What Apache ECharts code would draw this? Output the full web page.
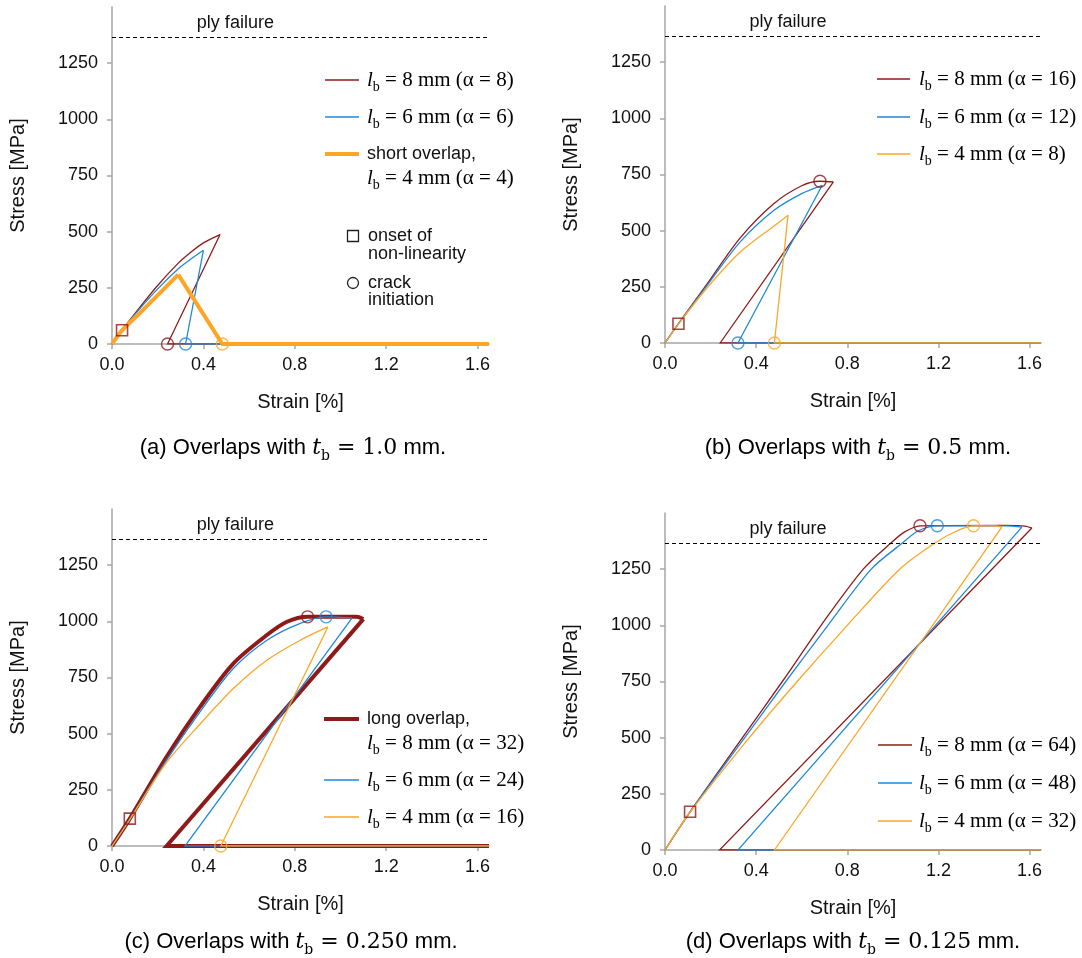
<!DOCTYPE html>
<html><head><meta charset="utf-8">
<script src="https://cdn.jsdelivr.net/npm/echarts@6/dist/echarts.min.js"></script>
<style>html,body{margin:0;padding:0;background:#fff}#c{width:1082px;height:958px}</style>
</head><body><div id="c"></div>
<script>
// ---------- data ----------
const plyFailure = 1365;
const plyLabelStrain = 0.54;
const xTickValues = [0, 0.4, 0.8, 1.2, 1.6];
const yTickValues = [0, 250, 500, 750, 1000, 1250];

// (a) t_b = 1.0 mm  (loading branch / unloading branch + baseline)
const a_lb8_load   = [[0,0],[0.044,62],[0.1,135],[0.195,255],[0.29,360],[0.341,405],[0.40,450],[0.473,487]];
const a_lb8_unload = [[0.473,487],[0.243,0],[1.65,0]];
const a_lb6_load   = [[0,0],[0.044,62],[0.1,132],[0.195,240],[0.29,335],[0.341,375],[0.40,417]];
const a_lb6_unload = [[0.40,417],[0.322,0],[1.65,0]];
const a_lb4_load   = [[0,0],[0.044,61],[0.122,138],[0.195,212],[0.29,309]];
const a_lb4_unload = [[0.29,309],[0.483,0],[1.65,0]];
const a_onset = [[0.044,61]];
const a_crack = [[0.243,0],[0.322,0],[0.483,0]];

// (b) t_b = 0.5 mm
const b_lb8_load   = [[0,0],[0.059,86],[0.184,262],[0.33,468],[0.477,620],[0.6,700],[0.68,720],[0.739,717]];
const b_lb8_unload = [[0.739,717],[0.242,0],[1.65,0]];
const b_lb6_load   = [[0,0],[0.059,85],[0.184,255],[0.33,450],[0.477,590],[0.6,665],[0.69,702]];
const b_lb6_unload = [[0.69,702],[0.32,0],[1.65,0]];
const b_lb4_load   = [[0,0],[0.059,84],[0.184,245],[0.33,405],[0.477,520],[0.54,569]];
const b_lb4_unload = [[0.54,569],[0.48,0],[1.65,0]];
const b_onset = [[0.059,86]];
const b_crack = [[0.68,720],[0.32,0],[0.48,0]];

// (c) t_b = 0.250 mm
const c_lb8_load   = [[0,0],[0.078,122],[0.239,397],[0.385,619],[0.531,812],[0.678,939],[0.766,998],[0.856,1020],[1.07,1020],[1.10,1010]];
const c_lb8_unload = [[1.10,1010],[0.239,0],[1.65,0]];
const c_lb6_load   = [[0,0],[0.078,120],[0.239,382],[0.385,597],[0.531,790],[0.678,916],[0.824,991],[0.937,1020],[1.051,1015]];
const c_lb6_unload = [[1.051,1015],[0.319,0],[1.65,0]];
const c_lb4_load   = [[0,0],[0.078,118],[0.239,372],[0.385,542],[0.531,701],[0.678,827],[0.824,916],[0.945,975]];
const c_lb4_unload = [[0.945,975],[0.476,0],[1.65,0]];
const c_onset = [[0.078,122]];
const c_crack = [[0.856,1020],[0.937,1020],[0.476,0]];

// (d) t_b = 0.125 mm
const d_lb8_load   = [[0,0],[0.11,170],[0.34,500],[0.515,750],[0.685,1000],[0.87,1250],[0.99,1365],[1.05,1415],[1.12,1443],[1.5,1445],[1.58,1442],[1.61,1433]];
const d_lb8_unload = [[1.61,1433],[0.239,0],[1.65,0]];
const d_lb6_load   = [[0,0],[0.11,170],[0.35,500],[0.53,750],[0.715,1000],[0.905,1250],[1.04,1365],[1.11,1420],[1.195,1443],[1.5,1443],[1.566,1437]];
const d_lb6_unload = [[1.566,1437],[0.32,0],[1.65,0]];
const d_lb4_load   = [[0,0],[0.11,168],[0.37,500],[0.58,750],[0.80,1000],[1.03,1250],[1.19,1370],[1.28,1420],[1.354,1443],[1.45,1443],[1.478,1437]];
const d_lb4_unload = [[1.478,1437],[0.48,0],[1.65,0]];
const d_onset = [[0.11,170]];
const d_crack = [[1.119,1443],[1.195,1443],[1.354,1443]];

const panelLabels = ['(a)','(b)','(c)','(d)'];
const panelThickness = ['1.0','0.5','0.250','0.125'];
const alphas = [[8,6,4],[16,12,8],[32,24,16],[64,48,32]];
const lengths = [8,6,4];

// ---------- styles ----------
const RED = '#8E1A1A', BLUE = '#1E88DC', ORANGE = '#FFA526', AXIS = '#A6A6A6';
const SANS = '"Liberation Sans", Arial, sans-serif';
const SERIF = '"Liberation Serif", "Times New Roman", serif';
const SERIF2 = '"DejaVu Serif", serif';

const grids = [
  {left:112, top:7,   width:377, height:337},
  {left:665, top:6,   width:376, height:337},
  {left:112, top:509, width:377, height:337},
  {left:665, top:513, width:376, height:337}
];

const xAxes = grids.map((g,i)=>({
  type:'value', gridIndex:i, min:0, max:1.65,
  name:'Strain [%]', nameLocation:'middle', nameGap:48,
  nameTextStyle:{fontFamily:SANS, fontSize:20, color:'#111'},
  axisLine:{show:true, onZero:false, lineStyle:{color:AXIS, width:1.5}},
  axisTick:{show:true, length:5, customValues:xTickValues, lineStyle:{color:AXIS, width:1.5}},
  axisLabel:{customValues:xTickValues, margin:12, fontFamily:SANS, fontSize:18, color:'#111',
    formatter:v=>Number(v).toFixed(1)},
  splitLine:{show:false}
}));
const yAxes = grids.map((g,i)=>({
  type:'value', gridIndex:i, min:0, max:1500,
  name:'Stress [MPa]', nameLocation:'middle', nameGap:84,
  nameTextStyle:{fontFamily:SANS, fontSize:20, color:'#111'},
  axisLine:{show:true, onZero:false, lineStyle:{color:AXIS, width:1.5}},
  axisTick:{show:true, length:5, customValues:yTickValues, lineStyle:{color:AXIS, width:1.5}},
  axisLabel:{customValues:yTickValues, margin:14, fontFamily:SANS, fontSize:18, color:'#111',
    formatter:v=>String(Math.round(v))},
  splitLine:{show:false}
}));

const panelData = [
  [[a_lb8_load,a_lb8_unload],[a_lb6_load,a_lb6_unload],[a_lb4_load,a_lb4_unload],a_onset,a_crack],
  [[b_lb8_load,b_lb8_unload],[b_lb6_load,b_lb6_unload],[b_lb4_load,b_lb4_unload],b_onset,b_crack],
  [[c_lb8_load,c_lb8_unload],[c_lb6_load,c_lb6_unload],[c_lb4_load,c_lb4_unload],c_onset,c_crack],
  [[d_lb8_load,d_lb8_unload],[d_lb6_load,d_lb6_unload],[d_lb4_load,d_lb4_unload],d_onset,d_crack]
];
const widths = [[1.3,1.3,4],[1.3,1.3,1.3],[4,1.3,1.3],[1.3,1.3,1.3]];
const colors = [RED, BLUE, ORANGE];

const series = [];
panelData.forEach((pd,p)=>{
  for (let k=0;k<3;k++){
    const base = {type:'line', xAxisIndex:p, yAxisIndex:p, symbol:'none', animation:false, z:2+k,
      lineStyle:{color:colors[k], width:widths[p][k], join:'miter', cap:'butt'}};
    const load = Object.assign({}, base, {name:'p'+p+'_'+k+'_load', data:pd[k][0], smooth:0.3});
    const unload = Object.assign({}, base, {name:'p'+p+'_'+k+'_unload', data:pd[k][1], smooth:false});
    if (k===0){
      load.markLine = {silent:true, symbol:'none', animation:false,
        lineStyle:{type:[4,3], color:'#000', width:1}, label:{show:false},
        data:[{yAxis:plyFailure}]};
      load.markPoint = {silent:true, symbol:'circle', symbolSize:0, animation:false,
        label:{show:true, position:'top', distance:5, formatter:'ply failure',
          fontFamily:SANS, fontSize:18, color:'#111'},
        data:[{coord:[plyLabelStrain, plyFailure]}]};
    }
    series.push(load, unload);
  }
  series.push({type:'scatter', xAxisIndex:p, yAxisIndex:p, data:pd[3], symbol:'rect', symbolSize:11,
    animation:false, z:10, itemStyle:{color:'rgba(0,0,0,0)', borderColor:RED, borderWidth:1.6}});
  series.push({type:'scatter', xAxisIndex:p, yAxisIndex:p, symbol:'circle', symbolSize:12,
    animation:false, z:10,
    data:pd[4].map((pt,i)=>({value:pt, itemStyle:{color:'rgba(0,0,0,0)', borderColor:colors[i], borderWidth:1.4}}))});
});

// ---------- legends & captions (graphic) ----------
const rich = {
  i:{fontFamily:SERIF, fontStyle:'italic', fontSize:21, color:'#111', lineHeight:28, verticalAlign:'middle'},
  s:{fontFamily:SERIF, fontSize:14, color:'#111', lineHeight:28, verticalAlign:'bottom'},
  t:{fontFamily:SERIF, fontSize:21, color:'#111', lineHeight:28, verticalAlign:'middle'}
};
function lbText(p,k){ return '{i|l}{s|b}{t| = '+lengths[k]+' mm (α = '+alphas[p][k]+')}'; }
function legLine(x1,x2,y,color,w){ return {type:'line', silent:true, shape:{x1:x1,y1:y,x2:x2,y2:y}, style:{stroke:color, lineWidth:w}}; }
function legText(x,y,text){ return {type:'text', silent:true, x:x, y:y, style:{text:text, rich:rich, verticalAlign:'middle', align:'left'}}; }
function plainText(x,y,text,size,align){ return {type:'text', silent:true, x:x, y:y, style:{text:text, fill:'#111', font:(size||18)+'px '+SANS, verticalAlign:'middle', align:align||'left'}}; }

const graphics = [];
// (a)
graphics.push(legLine(325,359,80,RED,1.3), legText(367,80,lbText(0,0)));
graphics.push(legLine(325,359,117,BLUE,1.3), legText(367,117,lbText(0,1)));
graphics.push(legLine(325,359,154,ORANGE,4), plainText(367,154,'short overlap,'), legText(367,178,lbText(0,2)));
graphics.push({type:'rect', silent:true, shape:{x:347.5,y:230.5,width:11,height:11}, style:{fill:'none', stroke:'#222', lineWidth:1.3}});
graphics.push(plainText(368,236,'onset of'), plainText(368,254,'non-linearity'));
graphics.push({type:'circle', silent:true, shape:{cx:353,cy:283,r:5.5}, style:{fill:'none', stroke:'#222', lineWidth:1.3}});
graphics.push(plainText(368,283,'crack'), plainText(368,300,'initiation'));
// (b)
graphics.push(legLine(877,910,79,RED,1.3), legText(919,79,lbText(1,0)));
graphics.push(legLine(877,910,117,BLUE,1.3), legText(919,117,lbText(1,1)));
graphics.push(legLine(877,910,154,ORANGE,1.3), legText(919,154,lbText(1,2)));
// (c)
graphics.push(legLine(324,359,719,RED,4), plainText(367,719,'long overlap,'), legText(367,743,lbText(2,0)));
graphics.push(legLine(324,359,780,BLUE,1.3), legText(367,780,lbText(2,1)));
graphics.push(legLine(324,359,817,ORANGE,1.3), legText(367,817,lbText(2,2)));
// (d)
graphics.push(legLine(878,912,745,RED,1.3), legText(919,745,lbText(3,0)));
graphics.push(legLine(878,912,783,BLUE,1.3), legText(919,783,lbText(3,1)));
graphics.push(legLine(878,912,821,ORANGE,1.3), legText(919,821,lbText(3,2)));

// captions
const capRich = {
  p:{fontFamily:SANS, fontSize:22, color:'#111', lineHeight:30, verticalAlign:'middle'},
  i:{fontFamily:SERIF2, fontStyle:'italic', fontSize:22, color:'#111', lineHeight:30, verticalAlign:'middle'},
  s:{fontFamily:SERIF2, fontSize:14, color:'#111', lineHeight:30, verticalAlign:'bottom'},
  m:{fontFamily:SERIF2, fontSize:22, color:'#111', lineHeight:30, verticalAlign:'middle'},
  u:{fontFamily:SANS, fontSize:22, color:'#111', lineHeight:30, verticalAlign:'middle'}
};
const capPos = [[293,448],[858,448],[291,942],[853,942]];
capPos.forEach((c,p)=>{
  graphics.push({type:'text', silent:true, x:c[0], y:c[1], style:{
    text:'{p|'+panelLabels[p]+' Overlaps with }{i|t}{s|b}{m| = '+panelThickness[p]+'}{u| mm.}',
    rich:capRich, align:'center', verticalAlign:'middle'}});
});

const chart = echarts.init(document.getElementById('c'), null, {renderer:'canvas'});
chart.setOption({
  backgroundColor:'#fff',
  animation:false,
  grid:grids,
  xAxis:xAxes,
  yAxis:yAxes,
  series:series,
  graphic:graphics
});
</script></body></html>
